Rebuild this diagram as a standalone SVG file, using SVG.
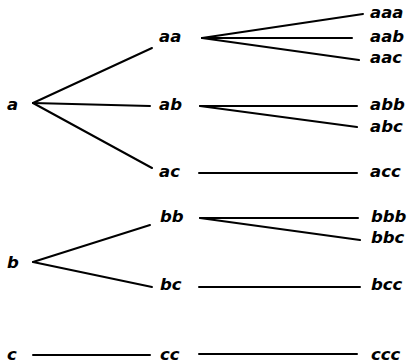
<svg xmlns="http://www.w3.org/2000/svg" width="409" height="363" viewBox="0 0 409 363">
<style>
text{font-family:"DejaVu Sans","Liberation Sans",sans-serif;font-style:oblique;font-weight:bold;font-size:16.5px;fill:#000}
.c line{stroke:#000;stroke-width:2;stroke-linecap:round}
</style>
<rect width="409" height="363" fill="#fff"/>
<g class="c" id="connectors">
<line x1="33" y1="103" x2="152" y2="48"/>
<line x1="33" y1="103" x2="150" y2="106"/>
<line x1="33" y1="103" x2="152" y2="168"/>
<line x1="202" y1="38" x2="363" y2="14"/>
<line x1="202" y1="38" x2="352" y2="38"/>
<line x1="202" y1="38" x2="359" y2="60"/>
<line x1="200" y1="106" x2="357" y2="106"/>
<line x1="200" y1="106" x2="357" y2="127"/>
<line x1="199" y1="173" x2="357" y2="173"/>
<line x1="33" y1="262" x2="150" y2="225"/>
<line x1="33" y1="262" x2="152" y2="287"/>
<line x1="200" y1="218" x2="358" y2="218"/>
<line x1="200" y1="218" x2="360" y2="240"/>
<line x1="199" y1="287" x2="360" y2="287"/>
<line x1="33" y1="355" x2="150" y2="355"/>
<line x1="199" y1="354" x2="357" y2="354"/>
</g>
<g id="n-a"><text x="7" y="110">a</text></g>
<g id="n-b"><text x="7" y="268">b</text></g>
<g id="n-c"><text x="7" y="360">c</text></g>
<g id="n-aa"><text x="159" y="42">aa</text></g>
<g id="n-ab"><text x="159" y="110">ab</text></g>
<g id="n-ac"><text x="159" y="177">ac</text></g>
<g id="n-bb"><text x="160" y="222">bb</text></g>
<g id="n-bc"><text x="160" y="290">bc</text></g>
<g id="n-cc"><text x="160" y="360">cc</text></g>
<g id="n-aaa"><text x="370" y="18">aaa</text></g>
<g id="n-aab"><text x="370" y="42">aab</text></g>
<g id="n-aac"><text x="370" y="63">aac</text></g>
<g id="n-abb"><text x="370" y="110">abb</text></g>
<g id="n-abc"><text x="370" y="132">abc</text></g>
<g id="n-acc"><text x="370" y="177">acc</text></g>
<g id="n-bbb"><text x="371" y="222">bbb</text></g>
<g id="n-bbc"><text x="371" y="243">bbc</text></g>
<g id="n-bcc"><text x="371" y="290">bcc</text></g>
<g id="n-ccc"><text x="371" y="360">ccc</text></g>
</svg>
